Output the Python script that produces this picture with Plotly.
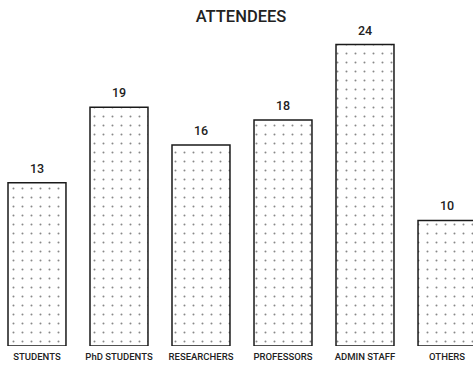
import plotly.graph_objects as go

categories = ["STUDENTS", "PhD STUDENTS", "RESEARCHERS", "PROFESSORS", "ADMIN STAFF", "OTHERS"]
attendees = [13, 19, 16, 18, 24, 10]

fig = go.Figure()
fig.add_trace(go.Bar(
    x=list(range(len(categories))),
    y=attendees,
    marker=dict(
        color="white",
        line=dict(color="#1a1a1a", width=1.5),
        pattern=dict(shape=".", size=9, solidity=0.04, fgcolor="#111111", bgcolor="white"),
    ),
    hoverinfo="skip",
))

# value labels above each bar
for i, v in enumerate(attendees):
    fig.add_annotation(
        x=i, y=v, text=str(v), showarrow=False,
        yanchor="bottom", yshift=5,
        font=dict(family="Roboto", size=12.5, color="#222222", weight=500),
    )

fig.update_layout(
    width=473, height=369,
    margin=dict(l=0, r=0, t=40, b=23),
    paper_bgcolor="white", plot_bgcolor="white",
    bargap=0.293,
    showlegend=False,
    title=dict(
        text="ATTENDEES", x=241 / 473, xanchor="center", y=0.957, yanchor="middle",
        font=dict(family="Roboto", size=16.5, color="#222222", weight=500),
    ),
    xaxis=dict(
        range=[-0.451, 5.317],
        tickmode="array", tickvals=list(range(len(categories))), ticktext=categories,
        showgrid=False, zeroline=False, showline=False, ticks="",
        ticklabelstandoff=3,
        tickfont=dict(family="Roboto", size=9.5, color="#222222", weight=500),
    ),
    yaxis=dict(
        range=[0, 24.36], visible=False, showgrid=False, zeroline=False,
    ),
)

fig.write_html("out.html")
